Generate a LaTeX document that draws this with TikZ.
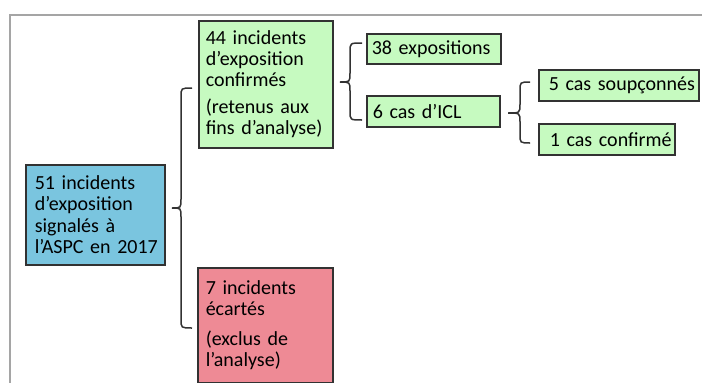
\documentclass[tikz,border=0pt]{standalone}
\usepackage{fontspec}
\setmainfont{Carlito}
\usetikzlibrary{calc}
\definecolor{bluefill}{RGB}{122,197,223}
\definecolor{greenfill}{RGB}{198,250,192}
\definecolor{redfill}{RGB}{238,138,149}
\definecolor{edge}{RGB}{50,50,50}
\definecolor{framegray}{RGB}{165,165,165}
\newcommand\mybrace[6]{% endx, vertx, tipx, topy, midy, boty
  \draw[bracestyle] (#1,#4) .. controls (#2,#4) .. (#2,#4+9) -- (#2,#5-9)
    .. controls (#2,#5) .. (#3,#5) .. controls (#2,#5) .. (#2,#5+9)
    -- (#2,#6-9) .. controls (#2,#6) .. (#1,#6);}
\newcommand\pushup[1]{\par\vspace*{#1}}
\hyphenpenalty=10000
\exhyphenpenalty=10000
\begin{document}
\begin{tikzpicture}[x=1pt,y=-1pt,
  box/.style={draw=edge, line width=1.5pt, anchor=north west, align=left,
    font=\fontsize{20}{21.3}\selectfont, inner ysep=0pt},
  bracestyle/.style={draw=edge, line width=1.5pt}]
\useasboundingbox (0,0) rectangle (702,383);
\draw[framegray, line width=1.6pt] (10,383) -- (10,15) -- (702,15);
\node[box, fill=bluefill, minimum width=139pt, minimum height=100pt, inner xsep=9pt, text width=121pt] (blue) at (25,164)
  {51~incidents\\d’exposition\\signalés~à\\l’ASPC~en~2017};
\node[box, fill=greenfill, minimum width=134pt, minimum height=127pt, inner xsep=7pt, text width=120pt] (g1) at (198,20)
  {44~incidents\\d’exposition\\confirmés\\[5.5pt](retenus~aux\\fins~d’analyse)\pushup{9pt}};
\node[box, fill=redfill, minimum width=135pt, minimum height=115pt, inner xsep=8pt, text width=119pt] (red) at (197,267)
  {7~incidents\\écartés\\[8pt](exclus~de\\l’analyse)\pushup{-8pt}};
\node[box, fill=greenfill, minimum width=134pt, minimum height=30pt, inner xsep=5pt, text width=124pt] (e38) at (366,33)
  {\mbox{38 expositions}};
\node[box, fill=greenfill, minimum width=133pt, minimum height=31pt, inner xsep=6pt, text width=121pt] (icl) at (366,95)
  {\mbox{6 cas d’ICL}};
\node[box, fill=greenfill, minimum width=160pt, minimum height=31pt, inner xsep=10pt, text width=140pt] (s5) at (538,69)
  {\mbox{5 cas soupçonnés}};
\node[box, fill=greenfill, minimum width=136pt, minimum height=31pt, inner xsep=6pt, text width=124pt] (c1) at (538,123)
  {\hspace*{5pt}\mbox{1 cas confirmé}};
\mybrace{192}{181}{172}{88}{208}{328}
\mybrace{362}{350}{340}{43}{82}{120}
\mybrace{530}{520}{508}{82}{113}{143}
\end{tikzpicture}
\end{document}
